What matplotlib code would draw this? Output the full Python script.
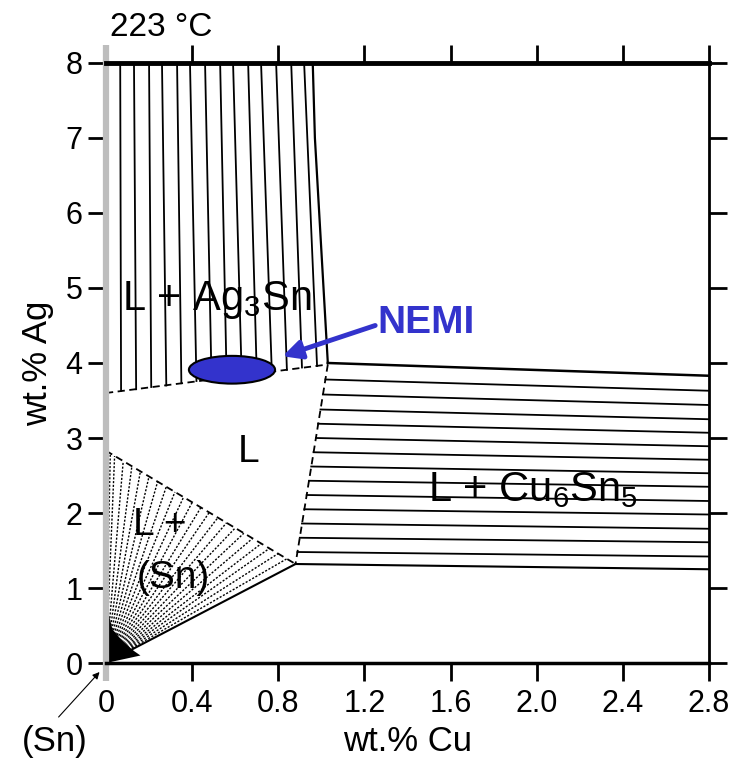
import numpy as np
import matplotlib.pyplot as plt
from matplotlib.patches import Ellipse

plt.rcParams['font.family'] = ['Liberation Sans', 'DejaVu Sans']
plt.rcParams['mathtext.fontset'] = 'custom'
plt.rcParams['mathtext.rm'] = 'Liberation Sans'
plt.rcParams['mathtext.it'] = 'Liberation Sans'

# axis ticks
x_ticks = [0, 0.4, 0.8, 1.2, 1.6, 2.0, 2.4, 2.8]
x_tick_labels = ['0', '0.4', '0.8', '1.2', '1.6', '2.0', '2.4', '2.8']
y_ticks = [0, 1, 2, 3, 4, 5, 6, 7, 8]

# phase boundaries (wt.% Cu, wt.% Ag)
ag3sn_liq_x = [0.0, 1.03]            # L / L+Ag3Sn (dashed)
ag3sn_liq_y = [3.60, 3.98]
ag3sn_edge_x = [1.03, 1.01, 0.99, 0.97, 0.96]   # L+Ag3Sn right edge
ag3sn_edge_y = [4.00, 5.0, 6.0, 7.0, 8.0]
cu6sn5_liq_x = [1.03, 0.88]          # L / L+Cu6Sn5 (dashed)
cu6sn5_liq_y = [3.98, 1.32]
cu6sn5_top_x = [1.03, 2.8]
cu6sn5_top_y = [4.00, 3.83]
cu6sn5_bot_x = [0.88, 2.8]
cu6sn5_bot_y = [1.32, 1.25]
sn_liq_x = [0.0, 0.88]               # L / L+(Sn) (dashed)
sn_liq_y = [2.83, 1.32]
sn_bot_x = [0.0, 0.88]
sn_bot_y = [0.0, 1.32]

# tie lines L + Ag3Sn
ag_tie_x0 = [0.07, 0.14, 0.21, 0.28, 0.35, 0.42, 0.49, 0.56, 0.63, 0.70, 0.77, 0.84, 0.91, 0.98]
ag_tie_y0 = [3.63, 3.65, 3.68, 3.70, 3.73, 3.76, 3.78, 3.81, 3.83, 3.86, 3.88, 3.91, 3.94, 3.96]
ag_tie_x1 = [0.066, 0.13, 0.20, 0.26, 0.33, 0.39, 0.46, 0.53, 0.59, 0.66, 0.72, 0.79, 0.86, 0.92]

# tie lines L + Cu6Sn5
cu_tie_x0 = [1.019, 1.007, 0.996, 0.985, 0.975, 0.964, 0.953, 0.943, 0.932, 0.921, 0.910, 0.900, 0.889]
cu_tie_y0 = [3.78, 3.58, 3.38, 3.19, 3.00, 2.81, 2.62, 2.43, 2.24, 2.05, 1.86, 1.67, 1.48]
cu_tie_y1 = [3.63, 3.44, 3.25, 3.07, 2.89, 2.71, 2.53, 2.35, 2.16, 1.98, 1.79, 1.61, 1.42]

# tie lines L + (Sn), liquid ends on the dashed edge
sn_tie_x = [0.02, 0.04, 0.08, 0.12, 0.16, 0.20, 0.24, 0.28, 0.32, 0.36, 0.40,
            0.44, 0.48, 0.52, 0.56, 0.60, 0.64, 0.68, 0.72, 0.76, 0.80, 0.84]
sn_tie_y = [2.80, 2.76, 2.69, 2.62, 2.56, 2.49, 2.42, 2.35, 2.28, 2.21, 2.14,
            2.07, 2.01, 1.94, 1.87, 1.80, 1.73, 1.66, 1.59, 1.53, 1.46, 1.39]
# dense dark wedge next to the Sn corner
sn_dark_x = [0, 0, 0.03, 0.08, 0.13, 0.16]
sn_dark_y = [0, 0.8, 0.45, 0.28, 0.16, 0.10]

nemi_xy = (0.585, 3.91)
blue = '#3333cc'
grey = '#bdbdbd'

fig = plt.figure(figsize=(7.32, 7.68), dpi=100)
ax = fig.add_axes([0.1448, 0.1367, 0.8238, 0.7813])
ax.set_xlim(0, 2.8)
ax.set_ylim(0, 8)

dash = (0, (4, 2.5))
# L + Ag3Sn
for x0, y0, x1 in zip(ag_tie_x0, ag_tie_y0, ag_tie_x1):
    ax.plot([x0, x1], [y0, 8], color='black', lw=1.3)
ax.plot(ag3sn_liq_x, ag3sn_liq_y, color='black', lw=1.3, ls=dash)
ax.plot(ag3sn_edge_x, ag3sn_edge_y, color='black', lw=1.6)

# L + Cu6Sn5
for x0, y0, y1 in zip(cu_tie_x0, cu_tie_y0, cu_tie_y1):
    ax.plot([x0, 2.8], [y0, y1], color='black', lw=1.3)
ax.plot(cu6sn5_liq_x, cu6sn5_liq_y, color='black', lw=1.3, ls=dash)
ax.plot(cu6sn5_top_x, cu6sn5_top_y, color='black', lw=1.8)
ax.plot(cu6sn5_bot_x, cu6sn5_bot_y, color='black', lw=1.5)

# L + (Sn)
for x1, y1 in zip(sn_tie_x, sn_tie_y):
    ax.plot([0, x1], [0, y1], color='black', lw=1.0, ls=(0, (1.5, 1.2)))
ax.fill(sn_dark_x, sn_dark_y, color='black', lw=0)
ax.plot(sn_liq_x, sn_liq_y, color='black', lw=1.3, ls=dash)
ax.plot(sn_bot_x, sn_bot_y, color='black', lw=1.5)

# NEMI marker
ax.add_patch(Ellipse(nemi_xy, 0.40, 0.37, facecolor=blue, edgecolor='black', lw=1.5, zorder=5))
ax.annotate('', xy=(0.82, 4.09), xytext=(1.25, 4.50),
            arrowprops=dict(arrowstyle='-|>', color=blue, lw=3.5, mutation_scale=28,
                            shrinkA=0, shrinkB=0), zorder=6)
ax.text(1.26, 4.53, 'NEMI', color=blue, fontsize=28, fontweight='bold', va='center', ha='left')

# region labels
ax.text(0.074, 4.84, r'L + Ag$_3$Sn', fontsize=30, va='center', ha='left')
ax.text(1.495, 2.31, r'L + Cu$_6$Sn$_5$', fontsize=30, va='center', ha='left')
ax.text(0.66, 2.81, 'L', fontsize=28, va='center', ha='center')
ax.text(0.125, 1.84, 'L +', fontsize=28, va='center', ha='left')
ax.text(0.31, 1.13, '(Sn)', fontsize=28, va='center', ha='center')

# labels outside
ax.text(0.02, 8.47, '223 °C', fontsize=24, va='center', ha='left')
ax.text(-0.237, -1.05, '(Sn)', fontsize=25, va='center', ha='center', clip_on=False)
ax.annotate('', xy=(-0.03, -0.12), xytext=(-0.22, -0.72),
            arrowprops=dict(arrowstyle='-|>', color='black', lw=0.8, mutation_scale=10,
                            shrinkA=0, shrinkB=0), annotation_clip=False)

ax.set_xlabel('wt.% Cu', fontsize=25, labelpad=4)
ax.set_ylabel('wt.% Ag', fontsize=25, labelpad=8)

ax.set_xticks(x_ticks)
ax.set_xticklabels(x_tick_labels)
ax.set_yticks(y_ticks)
ax.tick_params(axis='both', direction='out', length=13, width=2, labelsize=22,
               top=True, right=True, labeltop=False, labelright=False)
ax.tick_params(axis='x', pad=6)
ax.tick_params(axis='y', pad=4)

t0 = ax.xaxis.get_major_ticks()[0]
for ln in (t0.tick1line, t0.tick2line):
    ln.set_markeredgecolor(grey)
    ln.set_markeredgewidth(4.5)

ax.spines['left'].set_color(grey)
ax.spines['left'].set_linewidth(4.5)
ax.spines['top'].set_linewidth(3.5)
ax.spines['bottom'].set_linewidth(2.5)
ax.spines['right'].set_linewidth(2)

fig.savefig('out.png', dpi=100)
